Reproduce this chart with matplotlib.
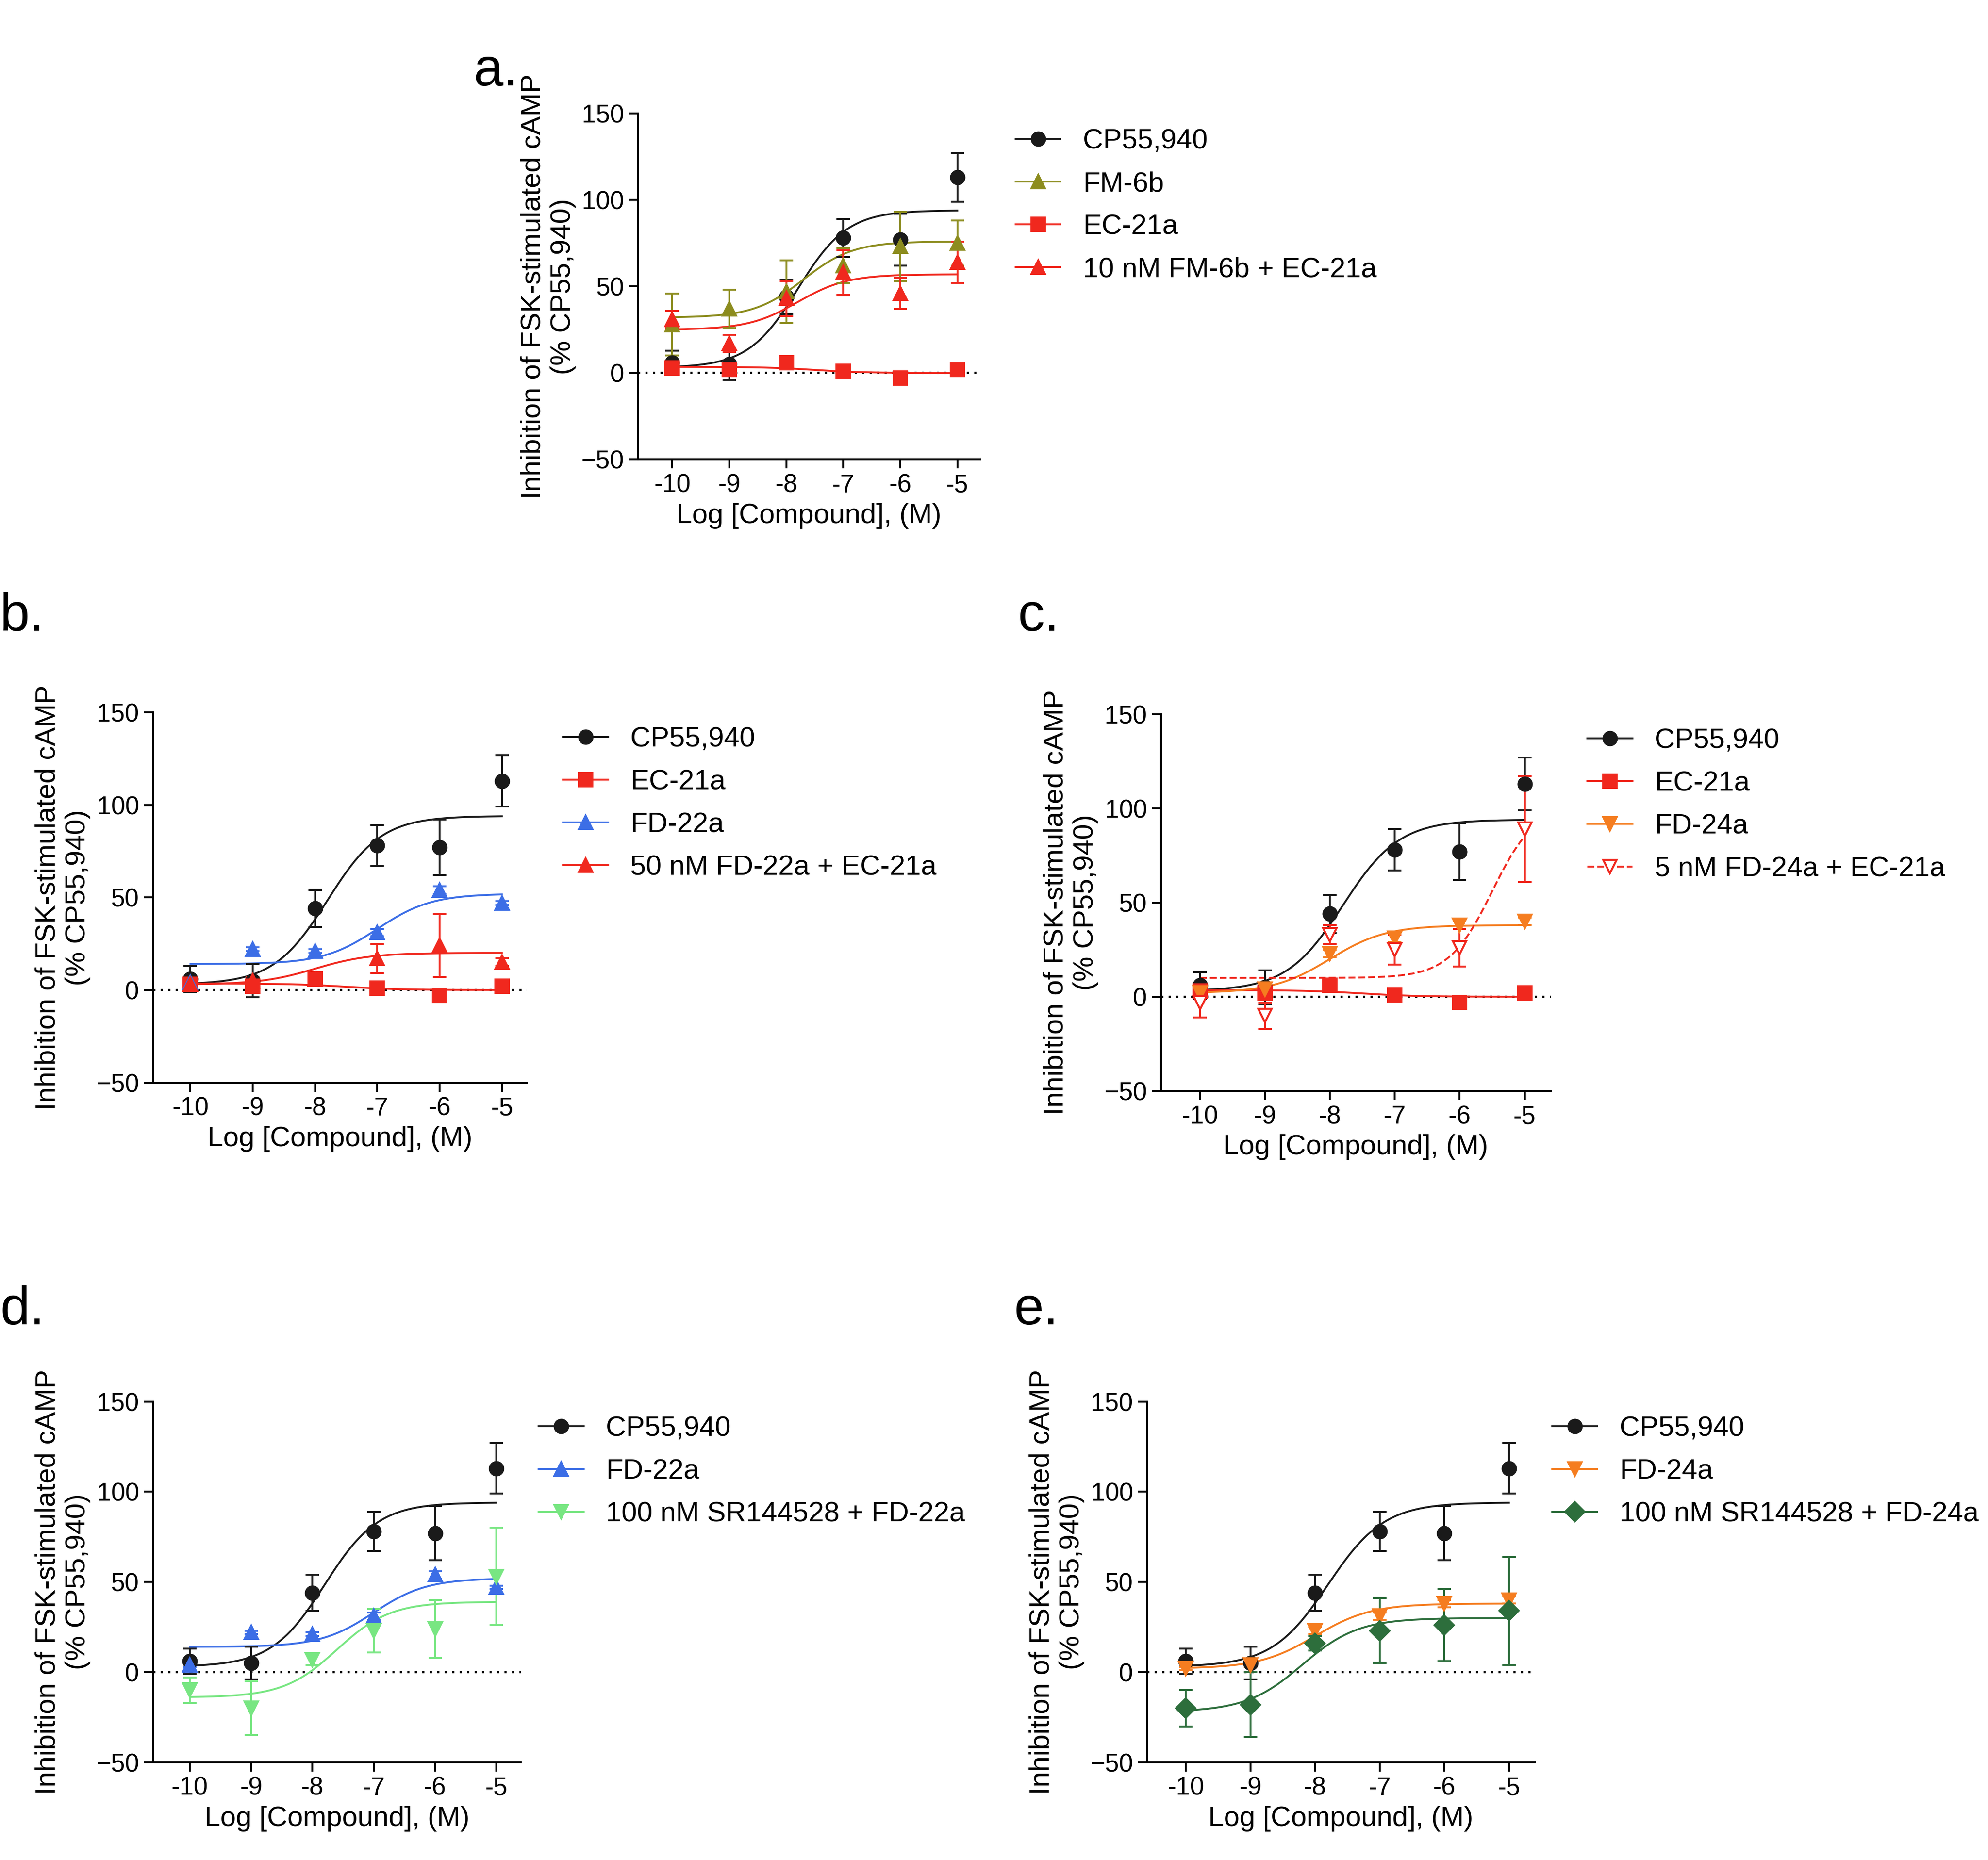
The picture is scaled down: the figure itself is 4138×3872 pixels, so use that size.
import numpy as np
import matplotlib
matplotlib.use("Agg")
import matplotlib.pyplot as plt
from matplotlib.lines import Line2D

plt.rcParams['font.family'] = ['Liberation Sans', 'DejaVu Sans']

x_log = [-10, -9, -8, -7, -6, -5]

cp_y = [6, 5, 44, 78, 77, 113]
cp_e = [7, 9, 10, 11, 15, 14]
cp_fit = (3, 94, -7.8, 1.0)

fm6b_y = [28, 37, 47, 62, 73, 75]
fm6b_e = [18, 11, 18, 10, 20, 13]
fm6b_fit = (32, 76, -7.7, 1.0)

ec21a_y = [3, 2, 6, 1, -3, 2]
ec21a_e = [2, 2, 2, 1, 3, 1]
ec21a_fit = (3.5, 0, -7.5, 1.0)

fm_ec_y = [31, 17, 43, 58, 46, 64]
fm_ec_e = [5, 5, 10, 13, 9, 12]
fm_ec_fit = (25, 57, -7.8, 1.0)

fd22_y = [4, 22, 21, 31, 54, 47]
fd22_e = [1, 1, 1, 2, 2, 1]
fd22_fit = (14, 52, -7.0, 1.0)

fd22_ec_y = [3, 5, 6, 17, 24, 15]
fd22_ec_e = [2, 2, 2, 8, 17, 2]
fd22_ec_fit = (3, 20, -8.0, 1.0)

fd24_y = [2, 4, 23, 31, 38, 40]
fd24_e = [1, 1, 2, 2, 2, 2]
fd24_fit = (2, 38, -8.0, 1.0)

fd24_ec_y = [-3, -10, 33, 25, 26, 89]
fd24_ec_e = [8, 7, 5, 8, 10, 28]
fd24_ec_fit = (10, 102, -5.5, 1.3)

sr_fd22_y = [-10, -20, 7, 23, 24, 53]
sr_fd22_e = [7, 15, 3, 12, 16, 27]
sr_fd22_fit = (-14, 39, -7.6, 1.0)

sr_fd24_y = [-20, -18, 16, 23, 26, 34]
sr_fd24_e = [10, 18, 4, 18, 20, 30]
sr_fd24_fit = (-22, 30, -8.2, 1.0)

BLACK = '#1a1a1a'; OLIVE = '#8c8c1e'; RED = '#f0281e'; BLUE = '#3c6ee6'
ORANGE = '#f57d20'; LGREEN = '#78e682'; DGREEN = '#2d6e3c'

def curve(p, xx):
    b, t, ec, h = p
    return b + (t - b) / (1 + 10 ** ((ec - xx) * h))

fig = plt.figure(figsize=(20.69, 19.36), dpi=200)

def panel(rect, letter, letter_pos, series, legend_x):
    ax = fig.add_axes(rect)
    xx = np.linspace(-10, -5, 300)
    ax.axhline(0, color='black', ls=(0, (1, 2.5)), lw=1.6, zorder=1)
    handles = []
    for lab, y, e, fit, col, mk, fill, ls in series:
        ax.plot(xx, curve(fit, xx), color=col, lw=1.4, ls=ls, zorder=2)
        ax.errorbar(x_log, y, yerr=e, fmt='none', ecolor=col, elinewidth=1.4, capsize=5, capthick=1.4, zorder=3)
        ax.plot(x_log, y, ls='none', marker=mk, ms=10, color=col,
                mfc=col if fill else 'white', mec=col, mew=1.5, zorder=4)
        handles.append(Line2D([], [], color=col, ls=ls, lw=1.4, marker=mk, ms=10,
                              mfc=col if fill else 'white', mec=col, mew=1.5))
    ax.set_xlim(-10.6, -4.6)
    ax.set_ylim(-50, 150)
    ax.set_xticks(x_log)
    ax.set_xticklabels([str(v) for v in x_log])
    ax.set_yticks([-50, 0, 50, 100, 150])
    for s in ['top', 'right']:
        ax.spines[s].set_visible(False)
    for s in ['left', 'bottom']:
        ax.spines[s].set_linewidth(1.4)
    ax.tick_params(labelsize=19, width=1.4, length=7)
    ax.set_xlabel('Log [Compound], (M)', fontsize=21)
    ax.set_ylabel('Inhibition of FSK-stimulated cAMP\n(% CP55,940)', fontsize=21, labelpad=4)
    ax.legend(handles, [s[0] for s in series], loc='upper left', bbox_to_anchor=(legend_x, 1.03),
              frameon=False, fontsize=21, handlelength=1.6, labelspacing=0.6)
    fig.text(letter_pos[0], letter_pos[1], letter, fontsize=40, ha='left', va='bottom')
    return ax

cp = ('CP55,940', cp_y, cp_e, cp_fit, BLACK, 'o', True, '-')
ec = ('EC-21a', ec21a_y, ec21a_e, ec21a_fit, RED, 's', True, '-')

panel([0.321, 0.753, 0.172, 0.186], 'a.', (0.238, 0.948), [
    cp,
    ('FM-6b', fm6b_y, fm6b_e, fm6b_fit, OLIVE, '^', True, '-'),
    ec,
    ('10 nM FM-6b + EC-21a', fm_ec_y, fm_ec_e, fm_ec_fit, RED, '^', True, '-'),
], 1.03)

panel([0.077, 0.418, 0.188, 0.199], 'b.', (0.0, 0.655), [
    cp, ec,
    ('FD-22a', fd22_y, fd22_e, fd22_fit, BLUE, '^', True, '-'),
    ('50 nM FD-22a + EC-21a', fd22_ec_y, fd22_ec_e, fd22_ec_fit, RED, '^', True, '-'),
], 1.03)

panel([0.584, 0.4135, 0.196, 0.2025], 'c.', (0.512, 0.655), [
    cp, ec,
    ('FD-24a', fd24_y, fd24_e, fd24_fit, ORANGE, 'v', True, '-'),
    ('5 nM FD-24a + EC-21a', fd24_ec_y, fd24_ec_e, fd24_ec_fit, RED, 'v', False, '--'),
], 1.03)

panel([0.077, 0.0525, 0.185, 0.194], 'd.', (0.0, 0.282), [
    cp,
    ('FD-22a', fd22_y, fd22_e, fd22_fit, BLUE, '^', True, '-'),
    ('100 nM SR144528 + FD-22a', sr_fd22_y, sr_fd22_e, sr_fd22_fit, LGREEN, 'v', True, '-'),
], 0.98)

panel([0.577, 0.0525, 0.195, 0.194], 'e.', (0.51, 0.282), [
    cp,
    ('FD-24a', fd24_y, fd24_e, fd24_fit, ORANGE, 'v', True, '-'),
    ('100 nM SR144528 + FD-24a', sr_fd24_y, sr_fd24_e, sr_fd24_fit, DGREEN, 'D', True, '-'),
], 0.98)

fig.savefig('out.png', dpi=200)
